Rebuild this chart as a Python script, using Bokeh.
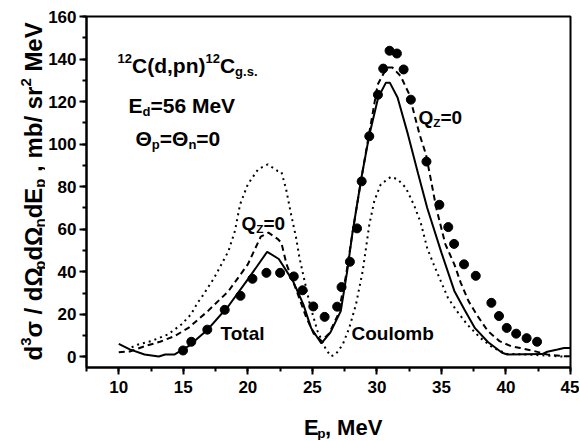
import math
from bokeh.plotting import figure
from bokeh.models import Label, SingleIntervalTicker, Range1d
from bokeh.layouts import row, column
from bokeh.embed import file_html
from bokeh.resources import INLINE

# ---------------- data ----------------
total_x = [10.0, 10.85, 12.0, 13.1, 13.6, 14.3, 15.4, 16.9, 18.5, 20.0, 21.5, 22.4,
           23.5, 24.3, 24.9, 25.7, 26.4, 27.2, 27.7, 28.1, 28.8, 29.4, 30.1, 30.7,
           31.0, 31.6, 32.4, 33.2, 33.9, 35.0, 36.0, 36.8, 37.6, 38.6, 39.7, 40.1,
           42.8, 43.2, 44.0, 44.5, 45.0]
total_y = [6.1, 3.5, 1.1, 0.2, 1.1, 1.1, 5.0, 12.9, 23.9, 36.4, 49.4, 46.0,
           35.6, 24.7, 13.6, 6.3, 11.5, 21.5, 40.3, 58.0, 84.2, 103.9, 121.9, 128.9,
           128.9, 121.9, 104.7, 86.0, 70.0, 49.0, 31.0, 22.0, 13.5, 7.0, 1.9, 1.1,
           1.3, 2.4, 3.5, 4.2, 4.2]

qz_x = [10.0, 10.85, 12.0, 13.2, 14.3, 15.4, 16.9, 18.5, 20.0, 21.0, 21.6, 22.3,
        22.6, 23.0, 23.4, 23.9, 24.5, 25.1, 25.7, 26.3, 27.0, 27.6, 28.1, 28.8,
        29.4, 30.06, 30.5, 30.8, 31.2, 31.84, 32.5, 32.9, 33.3, 33.8, 34.2, 34.6,
        35.3, 36.0, 36.5, 37.1, 37.8, 38.6, 39.5, 40.4, 41.1, 42.2, 43.2, 44.5, 45.0]
qz_y = [2.2, 2.5, 5.0, 7.1, 9.7, 13.6, 21.5, 30.9, 43.5, 56.5, 58.4, 55.5,
        53.6, 43.5, 37.2, 29.0, 19.0, 11.0, 7.5, 11.0, 20.0, 38.0, 58.0, 84.0,
        105.0, 128.0, 133.0, 136.0, 136.0, 132.0, 123.5, 114.0, 104.7, 95.2, 82.7, 70.0,
        53.0, 43.5, 34.8, 26.2, 19.2, 12.1, 7.4, 5.0, 4.2, 2.7, 1.1, 0.3, 0.3]

coul_x = [11.0, 11.5, 12.5, 13.8, 14.85, 15.6, 16.1, 16.4, 17.4, 18.5, 19.0, 19.4,
          20.0, 20.8, 21.55, 22.3, 22.6, 22.96, 23.35, 23.74, 24.0, 24.4, 24.8, 25.4,
          26.05, 26.44, 26.8, 27.35, 27.86, 28.38, 28.9, 29.41, 29.8, 30.3, 31.08, 31.6,
          32.24, 32.9, 33.4, 33.9, 34.4, 34.95, 35.5, 36.2, 37.0, 38.0, 39.0, 40.1,
          41.6, 43.2, 44.7]
coul_y = [4.5, 5.8, 7.4, 10.5, 15.2, 20.0, 25.4, 27.8, 37.2, 49.7, 59.2, 71.7,
          81.1, 88.2, 90.5, 87.4, 87.0, 79.0, 67.0, 56.0, 46.6, 35.6, 24.7, 12.1,
          3.5, 0.3, 1.1, 5.8, 13.6, 24.7, 40.3, 62.0, 73.3, 81.1, 84.6, 83.5,
          79.5, 71.0, 63.0, 51.0, 43.5, 35.6, 27.8, 21.5, 15.2, 9.0, 4.2, 1.4,
          1.1, 0.6, 0.0]

exp_x = [14.98, 15.62, 16.86, 18.21, 19.43, 20.36, 21.44, 22.50, 23.56, 24.24,
         25.07, 25.95, 26.92, 27.26, 27.91, 28.46, 28.82, 29.41, 30.08, 30.49,
         30.98, 31.55, 32.07, 32.63, 33.84, 34.84, 35.53, 35.98, 36.75, 37.66,
         38.87, 39.46, 40.06, 40.79, 41.60, 42.41]
exp_y = [3.0, 7.1, 12.8, 22.1, 28.7, 36.7, 39.5, 39.5, 37.8, 31.3,
         23.7, 18.8, 23.6, 32.8, 44.7, 60.4, 82.5, 103.7, 123.2, 135.5,
         143.9, 142.6, 135.1, 120.9, 91.8, 71.5, 61.0, 53.1, 43.5, 38.1,
         25.4, 19.2, 13.6, 10.9, 8.8, 7.1]

x_tick_step = 5
y_tick_step = 20

FONT = "Liberation Sans"
NB = "\u00a0"

TOTAL_W = 579
TOTAL_H = 440
LEFT_W = 45          # strip holding the y-axis title
MAIN_W = TOTAL_W - LEFT_W
MAIN_H = 405
BOTTOM_H = TOTAL_H - MAIN_H

# ---------------- main figure ----------------
p = figure(width=MAIN_W, height=MAIN_H, output_backend="svg", toolbar_location=None,
           x_range=Range1d(7.5, 45), y_range=Range1d(-5, 160),
           min_border_left=86 - LEFT_W, min_border_right=TOTAL_W - 570,
           min_border_top=16, min_border_bottom=MAIN_H - 367)
p.background_fill_color = "white"
p.border_fill_color = "white"
p.outline_line_color = "black"
p.outline_line_width = 2
p.xgrid.visible = False
p.ygrid.visible = False

p.xaxis.ticker = SingleIntervalTicker(interval=x_tick_step, num_minor_ticks=2)
p.yaxis.ticker = SingleIntervalTicker(interval=y_tick_step, num_minor_ticks=2)
for ax in (p.xaxis, p.yaxis):
    ax.axis_line_width = 2
    ax.axis_line_color = "black"
    ax.major_tick_line_width = 2
    ax.minor_tick_line_width = 2
    ax.major_tick_out = 7
    ax.major_tick_in = 0
    ax.minor_tick_out = 4
    ax.minor_tick_in = 0
    ax.major_label_text_font = FONT
    ax.major_label_text_font_style = "bold"
    ax.major_label_text_font_size = "17px"
    ax.major_label_text_color = "black"
p.xaxis.major_label_standoff = 6
p.yaxis.major_label_standoff = 3

p.line(total_x, total_y, line_color="black", line_width=2)
p.line(qz_x, qz_y, line_color="black", line_width=2, line_dash="6 4")
p.line(coul_x, coul_y, line_color="black", line_width=2, line_dash="2 4")
p.scatter(exp_x, exp_y, size=9, color="black")

# ---------------- side strips for the axis titles ----------------
left = figure(width=LEFT_W, height=TOTAL_H, output_backend="svg", toolbar_location=None,
              title=None,
              x_range=Range1d(0, LEFT_W), y_range=Range1d(0, TOTAL_H),
              x_axis_location=None, y_axis_location=None, min_border=0)
left.outline_line_color = None
left.grid.visible = False

bottom = figure(width=MAIN_W, height=BOTTOM_H, output_backend="svg",
                toolbar_location=None, title=None,
                x_range=Range1d(0, MAIN_W), y_range=Range1d(0, BOTTOM_H),
                x_axis_location=None, y_axis_location=None, min_border=0)
bottom.outline_line_color = None
bottom.grid.visible = False

# ---------------- rich text helpers ----------------
W = {' ': 278, NB: 278, '(': 333, ')': 333, ',': 278, '.': 278, '/': 278, '=': 584,
     'C': 722, 'E': 667, 'M': 833, 'Q': 778, 'V': 667, 'T': 611, 'Z': 611,
     'a': 556, 'b': 611, 'c': 556, 'd': 611, 'e': 556, 'g': 611, 'l': 278,
     'm': 889, 'n': 611, 'o': 611, 'p': 611, 'r': 389, 's': 556, 't': 333,
     'u': 611, 'Θ': 778, 'σ': 617, 'Ω': 768}
for c in "0123456789":
    W[c] = 556


def twidth(t, size):
    return sum(W.get(c, 600) for c in t) / 1000.0 * size


def main_xy(px, py):
    return (7.5 + (px - 86.0) / 484.0 * 37.5, 160.0 - (py - 16.0) / 351.0 * 165.0)


def left_xy(px, py):
    return (px, TOTAL_H - py)


def bottom_xy(px, py):
    return (px - LEFT_W, TOTAL_H - py)


def rich(fig, tf, parts, px, py, size, rotated=False):
    cur = px if not rotated else py
    for text, kind in parts:
        if kind == "n":
            s, off = size, 0.0
        elif kind == "sub":
            s, off = size * 0.62, size * 0.28
        else:
            s, off = size * 0.62, -size * 0.33
        if not rotated:
            x, y = tf(cur, py + off)
            lab = Label(x=x, y=y, text=text)
        else:
            x, y = tf(px + off, cur)
            lab = Label(x=x, y=y, text=text, angle=math.pi / 2)
        lab.text_font = FONT
        lab.text_font_style = "bold"
        lab.text_font_size = f"{s:.1f}px"
        lab.text_color = "black"
        lab.text_align = "left"
        lab.text_baseline = "alphabetic"
        fig.add_layout(lab)
        if not rotated:
            cur += twidth(text, s)
        else:
            cur -= twidth(text, s)


rich(p, main_xy, [("12", "sup"), ("C(d,pn)", "n"), ("12", "sup"), ("C", "n"),
                  ("g.s.", "sub")], 117, 65, 21)
rich(p, main_xy, [("E", "n"), ("d", "sub"), ("=56 MeV", "n")], 128, 105, 21)
rich(p, main_xy, [("Θ", "n"), ("p", "sub"), ("=Θ", "n"), ("n", "sub"), ("=0", "n")],
     135, 138, 21)
rich(p, main_xy, [("Q", "n"), ("Z", "sub"), ("=0", "n")], 241, 223, 19)
rich(p, main_xy, [("Q", "n"), ("Z", "sub"), ("=0", "n")], 418, 117, 19)
rich(p, main_xy, [("Total", "n")], 220, 333, 19)
rich(p, main_xy, [("Coulomb", "n")], 351, 333, 19)

# axis titles
rich(bottom, bottom_xy, [("E", "n"), ("p", "sub"), ("," + NB + "MeV", "n")],
     285, 427, 22)
rich(left, left_xy, [("d", "n"), ("3", "sup"), ("σ" + NB + "/" + NB + "dΩ", "n"),
                     ("p", "sub"), ("dΩ", "n"), ("n", "sub"), ("dE", "n"),
                     ("p", "sub"), (NB + "," + NB + "mb/" + NB + "sr", "n"),
                     ("2", "sup"), (NB + "MeV", "n")],
     33, 360, 24, rotated=True)

layout = row(left, column(p, bottom))
open("out.html", "w").write(file_html(layout, INLINE))
